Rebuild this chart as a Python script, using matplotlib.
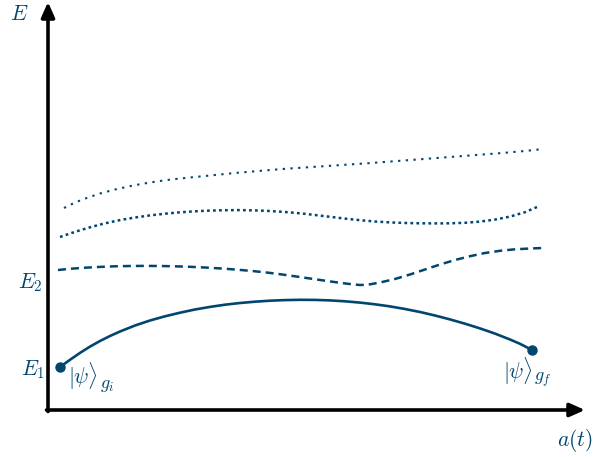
import matplotlib
matplotlib.use("Agg")
import matplotlib.pyplot as plt

plt.rcParams['mathtext.fontset'] = 'cm'
plt.rcParams['font.family'] = 'serif'

blue = '#00466f'

# curves (x, y in picture units, y downwards)
ground_x = [60, 70, 80, 90, 100, 110, 120, 135, 150, 165, 180, 195, 210, 225, 240, 255,
            270, 285, 300, 315, 330, 345, 360, 375, 390, 405, 420, 435, 450, 465, 480,
            495, 510, 520, 532]
ground_y = [367, 359.8, 352.9, 346.6, 341, 336, 331.5, 325.5, 320.5, 316.3, 312.7, 309.5,
            306.9, 304.7, 303, 301.7, 300.7, 300.1, 299.8, 299.9, 300.4, 301.3, 302.6,
            304.3, 306.4, 309, 312, 315.5, 319.4, 323.7, 328.4, 333.6, 339.5, 343.8, 350]

dash_x = [58, 70, 85, 100, 115, 130, 145, 160, 175, 190, 205, 220, 235, 250, 265, 280,
          295, 310, 325, 340, 352, 360, 368, 380, 395, 410, 425, 440, 455, 470, 485, 500,
          515, 530, 543]
dash_y = [270, 268.8, 267.7, 266.9, 266.3, 266, 265.9, 266, 266.3, 266.8, 267.5, 268.4,
          269.5, 270.8, 272.3, 274.2, 276.3, 278.5, 280.7, 282.8, 284.3, 285, 284.7, 282.5,
          279, 274.5, 269.5, 264.5, 260, 256.2, 253, 250.8, 249.3, 248.5, 248]

dense_x = [60, 70, 80, 90, 100, 110, 120, 135, 150, 165, 180, 195, 210, 225, 240, 255,
           270, 285, 300, 315, 330, 345, 360, 375, 390, 405, 420, 435, 450, 465, 480, 495,
           510, 525, 537]
dense_y = [237, 233.5, 230.3, 227.3, 224.6, 222.2, 220.1, 217.5, 215.4, 213.7, 212.3, 211.3,
           210.6, 210.2, 210.1, 210.4, 211, 212, 213.3, 215, 216.8, 218.6, 220.2, 221.5,
           222.4, 223, 223.3, 223.4, 223.3, 222.8, 221.6, 219.6, 216.6, 212.2, 207]

sparse_x = [64, 75, 88, 100, 115, 133, 150, 167, 185, 200, 220, 235, 250, 267, 285, 300,
            330, 367, 400, 433, 467, 500, 525, 543]
sparse_y = [208, 202.5, 197.5, 193.5, 189.5, 185.5, 182.5, 180, 178, 176.5, 174.5, 173,
            171.7, 170.3, 168.8, 167.8, 165.8, 163.3, 160.8, 158.3, 155.7, 153.2, 151, 149]

fig = plt.figure(figsize=(5.94, 4.57), dpi=100)
ax = fig.add_axes([0, 0, 1, 1])
ax.set_xlim(0, 594)
ax.set_ylim(457, 0)
ax.axis('off')

# axes arrows
arrow = dict(arrowstyle='-|>,head_length=0.9,head_width=0.4', lw=2.6, color='black',
             shrinkA=0, shrinkB=0)
ax.annotate('', xy=(48, 2), xytext=(48, 411.5), arrowprops=arrow, annotation_clip=False)
ax.annotate('', xy=(585, 410), xytext=(46.5, 410), arrowprops=arrow, annotation_clip=False)

# energy levels
ax.plot(ground_x, ground_y, color=blue, lw=1.9, solid_capstyle='round')
ax.plot([ground_x[0], ground_x[-1]], [ground_y[0], ground_y[-1]], 'o', color=blue, ms=6.5)
ax.plot(dash_x, dash_y, color=blue, lw=1.8, linestyle=(0, (3.2, 2.0)))
ax.plot(dense_x, dense_y, color=blue, lw=1.8, linestyle=(0, (1.1, 1.3)))
ax.plot(sparse_x, sparse_y, color=blue, lw=1.5, linestyle=(0, (1.1, 2.6)))

# labels
fs = 15.5
ax.text(10, 14, r'$E$', color=blue, fontsize=fs, ha='left', va='center')
ax.text(43, 283, r'$E_2$', color=blue, fontsize=fs, ha='right', va='center')
ax.text(45, 370, r'$E_1$', color=blue, fontsize=fs, ha='right', va='center')

# kets: main symbol and subscript placed separately for a larger subscript
ax.text(68, 376, r'$|\psi\rangle$', color=blue, fontsize=fs, ha='left', va='center')
ax.text(100, 385, r'$g_i$', color=blue, fontsize=13, ha='left', va='center')
ax.text(503, 371, r'$|\psi\rangle$', color=blue, fontsize=fs, ha='left', va='center')
ax.text(534, 380, r'$g_f$', color=blue, fontsize=13, ha='left', va='center')

ax.text(575, 440, r'$a(t)$', color=blue, fontsize=fs, ha='center', va='center')

fig.savefig('out.png', dpi=100)
